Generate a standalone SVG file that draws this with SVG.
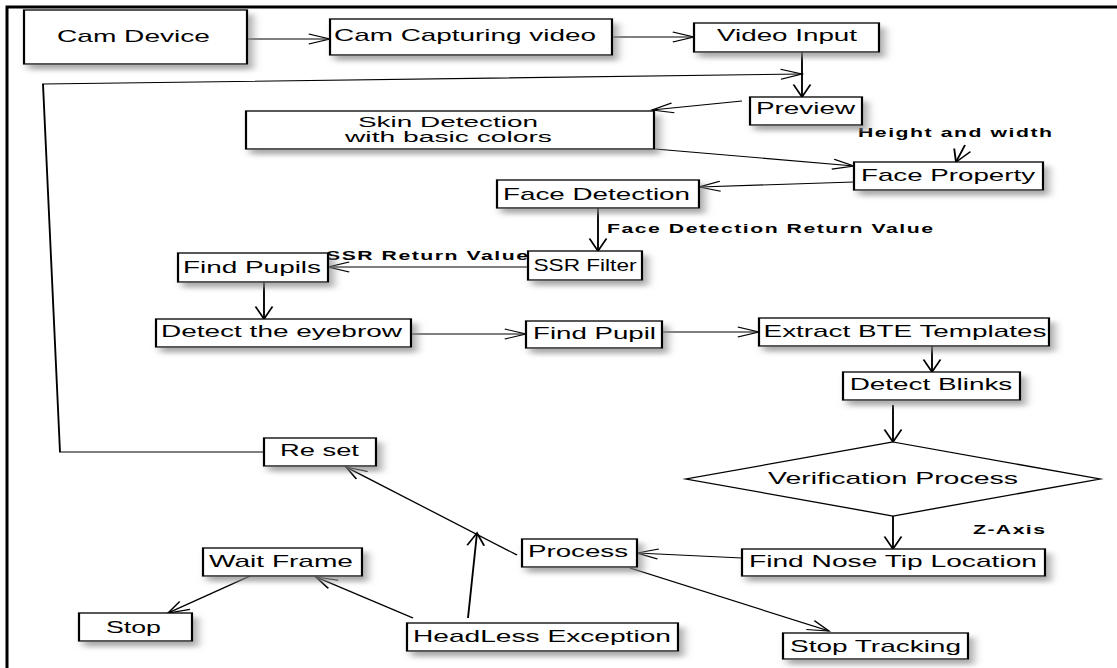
<svg xmlns="http://www.w3.org/2000/svg" width="1117" height="668" viewBox="0 0 1117 668">
  <defs>
    <style>
      .box { fill: #ffffff; stroke: #000000; stroke-width: 1.3; filter: url(#shadow); }
      .dia { fill: #ffffff; stroke: #000000; stroke-width: 1.3; }
      .lbl { font-family: "Liberation Sans", Arial, sans-serif; font-size: 16.4px; fill: #000000; text-anchor: middle; }
      .two { font-size: 15px; }
      .note { font-family: "Liberation Sans", Arial, sans-serif; font-size: 12.5px; font-weight: bold; fill: #000000; text-anchor: middle; }
      .wire { fill: none; stroke: #000000; stroke-width: 1.1; }
      .arr { marker-end: url(#open); }
    </style>
    <marker id="open" markerUnits="userSpaceOnUse" viewBox="-14 -7 16 14" refX="0" refY="0" markerWidth="16" markerHeight="14" orient="auto" overflow="visible">
      <path d="M-12.5,-5 L0,0 L-12.5,5" fill="none" stroke="#000000" stroke-width="1.1"/>
    </marker>
    <filter id="shadow" x="-10%" y="-20%" width="130%" height="160%">
      <feDropShadow dx="3" dy="5" stdDeviation="2.5" flood-color="#888888" flood-opacity="0.7"/>
    </filter>
  </defs>

  <rect x="0" y="0" width="1117" height="668" fill="#ffffff"/>
  <!-- page frame -->
  <path d="M7,668 V7 H1117" fill="none" stroke="#000000" stroke-width="3"/>

  <!-- flowchart drawn in narrow units, widened horizontally -->
  <g transform="scale(1.7,1)">
    <g id="connectors">
      <path class="wire arr" d="M145.29,39 H194.12"/>
      <path class="wire arr" d="M360,37 H408.24"/>
      <path class="wire arr" d="M471.76,52 V97"/>
      <path class="wire arr" d="M155.29,452 H35.29 L25.29,84 L471.76,74"/>
      <path class="wire arr" d="M436.47,101 L383.53,110"/>
      <path class="wire arr" d="M385.29,149 L502.35,166"/>
      <path class="wire arr" d="M567.65,145 L562.35,162"/>
      <path class="wire arr" d="M502.35,182 L411.18,187"/>
      <path class="wire arr" d="M351.76,208 V251"/>
      <path class="wire arr" d="M310.59,267 H192.94"/>
      <path class="wire arr" d="M155.29,282 V319"/>
      <path class="wire arr" d="M241.76,334 H309.41"/>
      <path class="wire arr" d="M389.41,332 H446.47"/>
      <path class="wire arr" d="M548.24,346 V372"/>
      <path class="wire arr" d="M525.29,405 V442"/>
      <path class="wire arr" d="M525.29,516 V549"/>
      <path class="wire arr" d="M436.47,558 L374.71,553"/>
      <path class="wire arr" d="M304.12,555 L203.53,467"/>
      <path class="wire arr" d="M370.59,568 L487.65,631"/>
      <path class="wire arr" d="M275.29,618 L280.59,533"/>
      <path class="wire arr" d="M242.94,618 L185.88,577"/>
      <path class="wire arr" d="M147.06,576 L98.82,613"/>
    </g>

    <g id="edge-labels">
      <text class="note" x="561.76" y="137" textLength="114.12" lengthAdjust="spacing">Height and width</text>
      <text class="note" x="452.94" y="233" textLength="191.76" lengthAdjust="spacing">Face Detection Return Value</text>
      <text class="note" x="251.18" y="260" textLength="118.82" lengthAdjust="spacing">SSR Return Value</text>
      <text class="note" x="593.53" y="534" textLength="42.35" lengthAdjust="spacing">Z-Axis</text>
    </g>

    <g id="cam-device">
      <rect class="box" x="14.12" y="10" width="131.18" height="54"/>
      <text class="lbl" x="78.53" y="42" textLength="90" lengthAdjust="spacingAndGlyphs">Cam Device</text>
    </g>
    <g id="cam-capturing">
      <rect class="box" x="194.12" y="19" width="165.88" height="36"/>
      <text class="lbl" x="273.53" y="41" textLength="154.12" lengthAdjust="spacingAndGlyphs">Cam Capturing video</text>
    </g>
    <g id="video-input">
      <rect class="box" x="408.24" y="23" width="108.82" height="29"/>
      <text class="lbl" x="462.94" y="41" textLength="82.35" lengthAdjust="spacingAndGlyphs">Video Input</text>
    </g>
    <g id="preview">
      <rect class="box" x="441.18" y="97" width="65.88" height="28"/>
      <text class="lbl" x="473.82" y="114" textLength="58.24" lengthAdjust="spacingAndGlyphs">Preview</text>
    </g>
    <g id="skin-detection">
      <rect class="box" x="144.71" y="111" width="240" height="38"/>
      <text class="lbl two" x="263.53" y="127" textLength="105.88" lengthAdjust="spacingAndGlyphs">Skin Detection</text>
      <text class="lbl two" x="263.82" y="142" textLength="121.76" lengthAdjust="spacingAndGlyphs">with basic colors</text>
    </g>
    <g id="face-property">
      <rect class="box" x="502.35" y="162" width="111.18" height="28"/>
      <text class="lbl" x="557.65" y="181" textLength="102.35" lengthAdjust="spacingAndGlyphs">Face Property</text>
    </g>
    <g id="face-detection">
      <rect class="box" x="292.35" y="180" width="118.82" height="28"/>
      <text class="lbl" x="350.88" y="200" textLength="110" lengthAdjust="spacingAndGlyphs">Face Detection</text>
    </g>
    <g id="ssr-filter">
      <rect class="box" x="310.59" y="251" width="67.06" height="29"/>
      <text class="lbl" x="344.12" y="271" textLength="60.6" lengthAdjust="spacingAndGlyphs">SSR Filter</text>
    </g>
    <g id="find-pupils">
      <rect class="box" x="104.71" y="253" width="88.24" height="29"/>
      <text class="lbl" x="148.24" y="273" textLength="81.18" lengthAdjust="spacingAndGlyphs">Find Pupils</text>
    </g>
    <g id="detect-eyebrow">
      <rect class="box" x="91.76" y="319" width="150" height="28"/>
      <text class="lbl" x="165.59" y="337" textLength="141.76" lengthAdjust="spacingAndGlyphs">Detect the eyebrow</text>
    </g>
    <g id="find-pupil">
      <rect class="box" x="309.41" y="321" width="80" height="27"/>
      <text class="lbl" x="349.71" y="339" textLength="72.35" lengthAdjust="spacingAndGlyphs">Find Pupil</text>
    </g>
    <g id="extract-bte">
      <rect class="box" x="446.47" y="318" width="170.59" height="28"/>
      <text class="lbl" x="532.35" y="337">Extract BTE Templates</text>
    </g>
    <g id="detect-blinks">
      <rect class="box" x="495.88" y="372" width="104.12" height="28"/>
      <text class="lbl" x="547.65" y="390">Detect Blinks</text>
    </g>
    <g id="verification">
      <polygon class="dia" points="525.29,442 647.06,479 525.29,516 403.53,479"/>
      <text class="lbl" x="525.29" y="484" textLength="147.06" lengthAdjust="spacingAndGlyphs">Verification Process</text>
    </g>
    <g id="nose-tip">
      <rect class="box" x="436.47" y="549" width="178.24" height="27"/>
      <text class="lbl" x="525.29" y="567" textLength="169.41" lengthAdjust="spacingAndGlyphs">Find Nose Tip Location</text>
    </g>
    <g id="process">
      <rect class="box" x="307.06" y="539" width="67.65" height="28"/>
      <text class="lbl" x="340" y="557" textLength="58.82" lengthAdjust="spacingAndGlyphs">Process</text>
    </g>
    <g id="stop-tracking">
      <rect class="box" x="460.59" y="633" width="108.82" height="26"/>
      <text class="lbl" x="515" y="652" textLength="100.59" lengthAdjust="spacingAndGlyphs">Stop Tracking</text>
    </g>
    <g id="headless">
      <rect class="box" x="239.41" y="623" width="159.41" height="28"/>
      <text class="lbl" x="318.82" y="642" textLength="151.76" lengthAdjust="spacingAndGlyphs">HeadLess Exception</text>
    </g>
    <g id="wait-frame">
      <rect class="box" x="119.41" y="548" width="93.53" height="28"/>
      <text class="lbl" x="165.29" y="567" textLength="84.71" lengthAdjust="spacingAndGlyphs">Wait Frame</text>
    </g>
    <g id="stop">
      <rect class="box" x="46.47" y="613" width="66.47" height="28"/>
      <text class="lbl" x="78.53" y="633" textLength="32.35" lengthAdjust="spacingAndGlyphs">Stop</text>
    </g>
    <g id="reset">
      <rect class="box" x="155.29" y="438" width="65.88" height="28"/>
      <text class="lbl" x="187.94" y="456" textLength="46.47" lengthAdjust="spacingAndGlyphs">Re set</text>
    </g>
  </g>
</svg>
